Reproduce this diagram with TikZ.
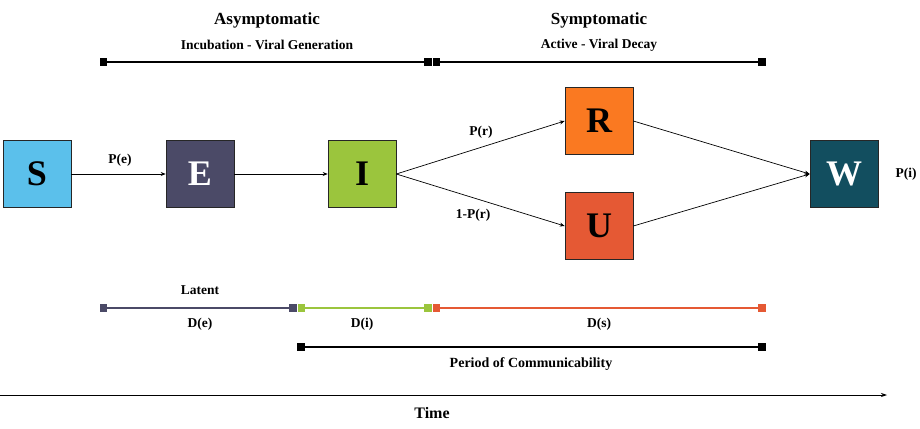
\documentclass[tikz,border=0pt]{standalone}
\usepackage{fontspec}
\setmainfont{Liberation Serif}
\usetikzlibrary{arrows.meta}
\definecolor{cS}{HTML}{5BC0EB}
\definecolor{cE}{HTML}{4B4A67}
\definecolor{cI}{HTML}{9BC53D}
\definecolor{cR}{HTML}{FA7921}
\definecolor{cU}{HTML}{E55934}
\definecolor{cW}{HTML}{124E5F}
\tikzset{
  box/.style={draw=black!85, line width=0.6pt, minimum width=68pt, minimum height=67pt, inner sep=0pt, font=\fontsize{36}{36}\selectfont\bfseries},
  conn/.style={line width=0.7pt, -{Stealth[length=5pt,width=4pt]}},
  mk/.style={minimum size=7.5pt, inner sep=0pt, fill=black},
  bar/.style={line width=1.3pt},
  cbar/.style={line width=1.1pt},
  lbl/.style={font=\fontsize{13.5}{15}\selectfont\bfseries},
  ttl/.style={font=\fontsize{17}{19}\selectfont\bfseries},
  sub/.style={font=\fontsize{13.5}{15}\selectfont\bfseries},
}
\begin{document}
\begin{tikzpicture}[x=1pt,y=-1pt]
\useasboundingbox (0,0) rectangle (920,428);
% boxes
\node[box, fill=cS] (S) at (37,174) {S};
\node[box, fill=cE, text=white] (E) at (200,174) {E};
\node[box, fill=cI] (I) at (362,174) {I};
\node[box, fill=cR] (R) at (599,121) {R};
\node[box, fill=cU] (U) at (599,226) {U};
\node[box, fill=cW, text=white] (W) at (844,174) {W};
% connectors
\draw[conn] (S.east) -- (E.west);
\draw[conn] (E.east) -- (I.west);
\draw[conn] (I.east) -- (R.west);
\draw[conn] (I.east) -- (U.west);
\draw[conn] (R.east) -- (W.west);
\draw[conn] (U.east) -- (W.west);
% labels
\node[lbl] (pe) at (120,160) {P(e)};
\node[lbl] (pr) at (481,132) {P(r)};
\node[lbl] (npr) at (473,215) {1-P(r)};
\node[lbl] (pi) at (906,174) {P(i)};
% top bars
\node[ttl] (asy) at (267,20) {Asymptomatic};
\node[sub] (inc) at (267,45) {Incubation - Viral Generation};
\node[ttl] (sym) at (599,20) {Symptomatic};
\node[sub] (act) at (599,45) {Active - Viral Decay};
\node[mk] (a1) at (103.5,62) {};
\node[mk] (a2) at (428,62) {};
\node[mk] (b1) at (436.5,62) {};
\node[mk] (b2) at (762,62) {};
\draw[bar] (a1) -- (a2);
\draw[bar] (b1) -- (b2);
% bottom colored bars
\node[lbl] (lat) at (200,290) {Latent};
\node[mk, fill=cE] (e1) at (103.5,308) {};
\node[mk, fill=cE] (e2) at (293,308) {};
\node[mk, fill=cI] (i1) at (301.5,308) {};
\node[mk, fill=cI] (i2) at (428,308) {};
\node[mk, fill=cU] (s1) at (436.5,308) {};
\node[mk, fill=cU] (s2) at (762,308) {};
\draw[cbar, draw=cE] (e1) -- (e2);
\draw[cbar, draw=cI] (i1) -- (i2);
\draw[cbar, draw=cU] (s1) -- (s2);
\node[lbl] (de) at (200,324) {D(e)};
\node[lbl] (di) at (362,324) {D(i)};
\node[lbl] (ds) at (599,324) {D(s)};
% communicability
\node[mk] (c1) at (301,347) {};
\node[mk] (c2) at (762,347) {};
\draw[bar] (c1) -- (c2);
\node[font=\fontsize{14}{16}\selectfont\bfseries] (pc) at (531,364) {Period of Communicability};
% time axis
\coordinate (t0) at (0,395);
\coordinate (t1) at (887,395);
\draw[line width=0.8pt, -{Stealth[length=6pt,width=4pt]}] (t0) -- (t1);
\node[font=\fontsize{16}{18}\selectfont\bfseries] (time) at (432,413) {Time};
\end{tikzpicture}
\end{document}
